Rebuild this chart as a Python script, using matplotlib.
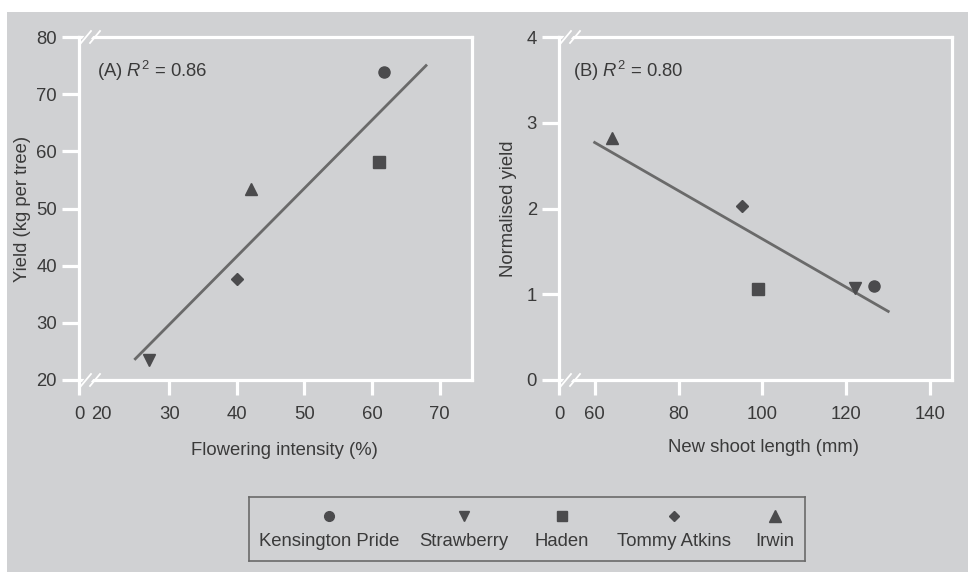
import matplotlib
matplotlib.use("Agg")
import matplotlib.pyplot as plt
from matplotlib.patches import Rectangle
import numpy as np

plt.rcParams['font.family'] = ['Liberation Sans', 'DejaVu Sans']
plt.rcParams['mathtext.fontset'] = 'custom'
plt.rcParams['mathtext.rm'] = 'Liberation Sans'
plt.rcParams['mathtext.it'] = 'Liberation Sans:italic'

# ---------------- data ----------------
cultivars = ["Kensington Pride", "Strawberry", "Haden", "Tommy Atkins", "Irwin"]
markers = ["o", "v", "s", "D", "^"]
marker_sizes = [8, 8.5, 8, 6, 9]

flowering = [61.8, 27.0, 61.0, 40.0, 42.1]
yield_kg = [73.8, 23.5, 58.1, 37.7, 53.4]
fitA_x = [25.0, 68.0]
fitA_y = [23.7, 75.0]

shoot_len = [126.7, 122.0, 99.0, 95.1, 64.2]
norm_yield = [1.10, 1.07, 1.06, 2.03, 2.82]
fitB_x = [60.0, 130.0]
fitB_y = [2.77, 0.80]

A_xticks = [30, 40, 50, 60, 70]
A_yticks = [20, 30, 40, 50, 60, 70, 80]
B_xticks = [60, 80, 100, 120, 140]
B_yticks = [0, 1, 2, 3, 4]

# ---------------- style ----------------
W, H = 968, 572
BG = "#d0d1d3"
MK = "#4b4b4d"
LN = "#6a6a6a"
TXT = "#3a3a3a"
WHITE = "white"
FS = 13.3

fig = plt.figure(figsize=(W / 100, H / 100), dpi=100)
fig.patch.set_facecolor("white")
fig.patches.append(Rectangle((7 / W, 0), 1 - 7 / W, 1 - 12 / H, transform=fig.transFigure,
                             facecolor=BG, edgecolor="none", zorder=-10))


def px_axes(l, t, r, b):
    return fig.add_axes([l / W, 1 - b / H, (r - l) / W, (b - t) / H])


def style_axes(ax):
    ax.set_facecolor(BG)
    for s in ax.spines.values():
        s.set_color(WHITE)
        s.set_linewidth(2.3)
    ax.tick_params(axis="both", which="major", colors=WHITE, width=2.3, labelcolor=TXT,
                   labelsize=FS)
    ax.tick_params(axis="y", which="major", length=12.5, pad=3.5)
    ax.tick_params(axis="x", which="major", length=11, pad=7.5)


def break_marks(xpx, ypx):
    # gap in the spine and two slashes
    fig.add_artist(plt.Line2D([(xpx + 5) / W, (xpx + 13) / W],
                              [1 - (ypx + 5) / H, 1 - (ypx - 5) / H],
                              transform=fig.transFigure, color=BG, lw=5, solid_capstyle="butt", zorder=20))
    for dx in (0, 9):
        fig.add_artist(plt.Line2D([(xpx + dx + 2) / W, (xpx + dx + 12) / W],
                                  [1 - (ypx + 6) / H, 1 - (ypx - 6) / H],
                                  transform=fig.transFigure, color=WHITE, lw=1.3, zorder=21))


# ---------------- panel A ----------------
axA = px_axes(79, 37, 472, 380)
style_axes(axA)
xA0, xA1 = 16.67, 74.8
axA.set_xlim(xA0, xA1)
axA.set_ylim(20, 80)
axA.set_xticks([xA0] + A_xticks)
axA.set_xticklabels(["0"] + [str(v) for v in A_xticks])
axA.set_xticks([20], minor=True)
axA.set_xticklabels(["20"], minor=True)
axA.tick_params(axis="x", which="minor", length=0, pad=18.5, labelsize=FS, labelcolor=TXT)
axA.set_yticks(A_yticks)
axA.set_yticklabels([str(v) for v in A_yticks])
axA.plot(fitA_x, fitA_y, color=LN, lw=2.0, zorder=2)
for i in range(len(cultivars)):
    axA.plot(flowering[i], yield_kg[i], marker=markers[i], ms=marker_sizes[i], color=MK,
             ls="none", zorder=3)
axA.text(0.045, 0.90, r"(A) $R^{2}$ = 0.86", transform=axA.transAxes, fontsize=FS,
         color=TXT, va="center", ha="left")
axA.set_xlabel("Flowering intensity (%)", fontsize=FS, color=TXT)
axA.xaxis.set_label_coords(0.522, -0.18)
axA.set_ylabel("Yield (kg per tree)", fontsize=FS, color=TXT)
axA.yaxis.set_label_coords(-0.122, 0.5)

# ---------------- panel B ----------------
axB = px_axes(559, 37, 952, 380)
style_axes(axB)
xB0, xB1 = 51.5, 145.2
axB.set_xlim(xB0, xB1)
axB.set_ylim(0, 4)
axB.set_xticks([xB0] + B_xticks)
axB.set_xticklabels(["0"] + [str(v) for v in B_xticks])
axB.set_yticks(B_yticks)
axB.set_yticklabels([str(v) for v in B_yticks])
axB.plot(fitB_x, fitB_y, color=LN, lw=2.0, zorder=2)
for i in range(len(cultivars)):
    axB.plot(shoot_len[i], norm_yield[i], marker=markers[i], ms=marker_sizes[i], color=MK,
             ls="none", zorder=3)
axB.text(0.036, 0.90, r"(B) $R^{2}$ = 0.80", transform=axB.transAxes, fontsize=FS,
         color=TXT, va="center", ha="left")
axB.set_xlabel("New shoot length (mm)", fontsize=FS, color=TXT)
axB.xaxis.set_label_coords(0.521, -0.172)
axB.set_ylabel("Normalised yield", fontsize=FS, color=TXT)
axB.yaxis.set_label_coords(-0.107, 0.5)

for xl in (79, 559):
    for yl in (37, 380):
        break_marks(xl, yl)

# ---------------- legend ----------------
axL = px_axes(249, 497, 805, 561)
axL.set_facecolor(BG)
axL.set_xlim(249, 805)
axL.set_ylim(561, 497)
axL.set_xticks([])
axL.set_yticks([])
for s in axL.spines.values():
    s.set_color("#6a6a6a")
    s.set_linewidth(1.2)
leg_x = [329, 464, 562, 674, 775]
leg_ms = [7, 7, 7.5, 5, 8]
for i, name in enumerate(cultivars):
    axL.plot(leg_x[i], 516, marker=markers[i], ms=leg_ms[i], color=MK, ls="none")
    axL.text(leg_x[i], 541, name, fontsize=FS, color=TXT, ha="center", va="center")

fig.savefig("out.png", dpi=100, facecolor=fig.get_facecolor())
